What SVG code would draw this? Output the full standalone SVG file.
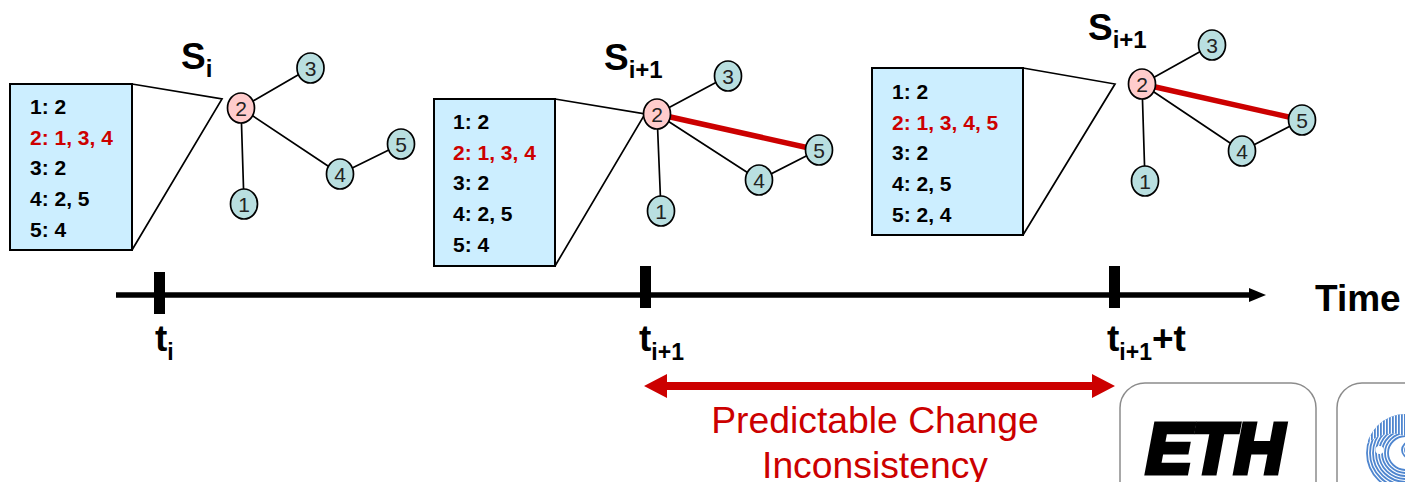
<svg xmlns="http://www.w3.org/2000/svg" width="1405" height="482" viewBox="0 0 1405 482">
<style>
text{font-family:"Liberation Sans",Arial,sans-serif}
.box{fill:#cceeff;stroke:#000;stroke-width:2}
.zoom{fill:none;stroke:#000;stroke-width:1.7}
.edge{stroke:#000;stroke-width:1.7;fill:none}
.hot{stroke:#cc0000;stroke-width:5.500;fill:none}
.n{fill:#b9dfe0;stroke:#000;stroke-width:1.7}
.p{fill:#ffcccc;stroke:#000;stroke-width:1.7}
.nt{font-size:21px;fill:#222;text-anchor:middle}
.l{font-size:21px;font-weight:bold;fill:#000}
.r{fill:#cc0000}
.big{font-weight:bold;fill:#000}
.logo{fill:#fff;stroke:#8c8c8c;stroke-width:1.5}
</style>
<defs>
<clipPath id="clipGlobe"><rect x="1338" y="384" width="67" height="98"/></clipPath>
<clipPath id="clipTop"><path d="M1360 410H1405V436Q1385 428 1364 446Z"/></clipPath>
<pattern id="hatch" width="3" height="3" patternUnits="userSpaceOnUse"><rect width="1.800" height="3" fill="#4f86cf"/></pattern>
</defs>

<g id="connectors">
<path class="edge" d="M241 108L310 68M241 108L244 204M241 108L340 174M340 174L401 144"/>
<path class="edge" d="M657 114L728 76M657 114L661 211M657 114L759 180M759 180L818 150"/>
<path class="hot" d="M657 114L818 150"/>
<path class="edge" d="M1142 84L1212 45M1142 84L1145 181M1142 84L1242 151M1242 151L1302 120"/>
<path class="hot" d="M1142 84L1302 120"/>
<path id="timeline" d="M116 295H1252" stroke="#000" stroke-width="5.500" fill="none"/>
<path d="M1249 288L1266 295L1249 302Z" fill="#000"/>
<path d="M665 386H1093" stroke="#cc0000" stroke-width="8" fill="none"/>
<path d="M644 386L667 374V398Z M1115 386L1092 374V398Z" fill="#cc0000"/>
</g>

<g id="table-1">
<rect class="box" x="10" y="84" width="122" height="166"/>
<path class="zoom" d="M132 84L222 99L132 250"/>
<text class="l" x="30" y="114">1: 2</text>
<text class="l r" x="30" y="145">2: 1, 3, 4</text>
<text class="l" x="30" y="175">3: 2</text>
<text class="l" x="30" y="206">4: 2, 5</text>
<text class="l" x="30" y="237">5: 4</text>
</g>
<g id="table-2">
<rect class="box" x="434" y="99" width="121" height="167"/>
<path class="zoom" d="M555 99L645 114L555 266"/>
<text class="l" x="453" y="129">1: 2</text>
<text class="l r" x="453" y="160">2: 1, 3, 4</text>
<text class="l" x="453" y="190">3: 2</text>
<text class="l" x="453" y="221">4: 2, 5</text>
<text class="l" x="453" y="252">5: 4</text>
</g>
<g id="table-3">
<rect class="box" x="872" y="68" width="151" height="167"/>
<path class="zoom" d="M1023 68L1115 84L1023 235"/>
<text class="l" x="892" y="99">1: 2</text>
<text class="l r" x="892" y="130">2: 1, 3, 4, 5</text>
<text class="l" x="892" y="160">3: 2</text>
<text class="l" x="892" y="191">4: 2, 5</text>
<text class="l" x="892" y="222">5: 2, 4</text>
</g>

<g id="g1-n2"><ellipse class="p" cx="241" cy="108" rx="13.500" ry="15"/><text class="nt" x="241" y="115.500">2</text></g>
<g id="g1-n3"><ellipse class="n" cx="310.500" cy="68" rx="13.500" ry="15"/><text class="nt" x="310.500" y="75.500">3</text></g>
<g id="g1-n5"><ellipse class="n" cx="401" cy="144" rx="13.500" ry="15"/><text class="nt" x="401" y="151.500">5</text></g>
<g id="g1-n4"><ellipse class="n" cx="340" cy="174" rx="13.500" ry="15"/><text class="nt" x="340" y="181.500">4</text></g>
<g id="g1-n1"><ellipse class="n" cx="244" cy="204" rx="13.500" ry="15"/><text class="nt" x="244" y="211.500">1</text></g>

<g id="g2-n2"><ellipse class="p" cx="657" cy="114" rx="13.500" ry="15"/><text class="nt" x="657" y="121.500">2</text></g>
<g id="g2-n3"><ellipse class="n" cx="728" cy="76" rx="13.500" ry="15"/><text class="nt" x="728" y="83.500">3</text></g>
<g id="g2-n5"><ellipse class="n" cx="819" cy="150" rx="13.500" ry="15"/><text class="nt" x="819" y="157.500">5</text></g>
<g id="g2-n4"><ellipse class="n" cx="759" cy="180" rx="13.500" ry="15"/><text class="nt" x="759" y="187.500">4</text></g>
<g id="g2-n1"><ellipse class="n" cx="661" cy="211" rx="13.500" ry="15"/><text class="nt" x="661" y="218.500">1</text></g>

<g id="g3-n2"><ellipse class="p" cx="1142" cy="84" rx="13.500" ry="15"/><text class="nt" x="1142" y="91.500">2</text></g>
<g id="g3-n3"><ellipse class="n" cx="1212" cy="45" rx="13.500" ry="15"/><text class="nt" x="1212" y="52.500">3</text></g>
<g id="g3-n5"><ellipse class="n" cx="1302" cy="120" rx="13.500" ry="15"/><text class="nt" x="1302" y="127.500">5</text></g>
<g id="g3-n4"><ellipse class="n" cx="1242" cy="151" rx="13.500" ry="15"/><text class="nt" x="1242" y="158.500">4</text></g>
<g id="g3-n1"><ellipse class="n" cx="1145" cy="181" rx="13.500" ry="15"/><text class="nt" x="1145" y="188.500">1</text></g>

<g id="state-labels">
<text x="181" y="69" font-size="37" class="big">S<tspan font-size="24" dy="8">i</tspan></text>
<text x="604" y="70" font-size="37" class="big">S<tspan font-size="24" dy="8">i+1</tspan></text>
<text x="1088" y="40" font-size="37" class="big">S<tspan font-size="24" dy="8">i+1</tspan></text>
</g>

<g id="ticks" fill="#000">
<rect x="154" y="272" width="11" height="42"/>
<rect x="640" y="266" width="11" height="42"/>
<rect x="1109" y="266" width="11" height="42"/>
</g>
<g id="tick-labels">
<text x="155" y="351" font-size="37" class="big">t<tspan font-size="23" dy="9">i</tspan></text>
<text x="639" y="351" font-size="37" class="big">t<tspan font-size="23" dy="9">i+1</tspan></text>
<text x="1107" y="351" font-size="37" class="big">t<tspan font-size="23" dy="9">i+1</tspan><tspan dy="-9">+t</tspan></text>
<text x="1315" y="310.500" font-size="37" class="big">Time</text>
</g>
<g id="caption" fill="#cc0000" font-size="37.300" text-anchor="middle">
<text x="875" y="432.500">Predictable Change</text>
<text x="875" y="478">Inconsistency</text>
</g>

<g id="logo-eth">
<rect class="logo" x="1120" y="383" width="196" height="140" rx="25"/>
<text x="1146" y="473" font-size="70" font-weight="bold" font-style="italic" textLength="138" lengthAdjust="spacingAndGlyphs" fill="#000" stroke="#000" stroke-width="5">ETH</text>
</g>
<g id="logo-globe">
<rect class="logo" x="1337" y="383" width="120" height="140" rx="25"/>
<g clip-path="url(#clipGlobe)">
<g fill="none" stroke="#4f86cf" stroke-width="1.800">
<ellipse cx="1406" cy="453" rx="39" ry="38"/>
<ellipse cx="1406" cy="453" rx="36" ry="35"/>
<ellipse cx="1406" cy="453" rx="33" ry="32"/>
<ellipse cx="1406" cy="453" rx="30" ry="29"/>
<ellipse cx="1406" cy="453" rx="27" ry="26"/>
<ellipse cx="1406" cy="453" rx="24" ry="23"/>
<ellipse cx="1406" cy="453" rx="21" ry="20"/>
<ellipse cx="1406" cy="453" rx="18" ry="17"/>
</g>
<g clip-path="url(#clipTop)">
<ellipse cx="1406" cy="453" rx="40" ry="39" fill="#fff"/>
<ellipse cx="1406" cy="453" rx="40" ry="39" fill="url(#hatch)"/>
</g>
<ellipse cx="1414" cy="450" rx="13.500" ry="14" fill="#fff"/>
<g fill="none" stroke="#4f86cf" stroke-width="1.800">
<circle cx="1410" cy="450" r="8"/>
<circle cx="1410" cy="450" r="5"/>
</g>
</g>
<circle cx="1379.500" cy="450" r="4" fill="#fff"/>
</g>
</svg>
